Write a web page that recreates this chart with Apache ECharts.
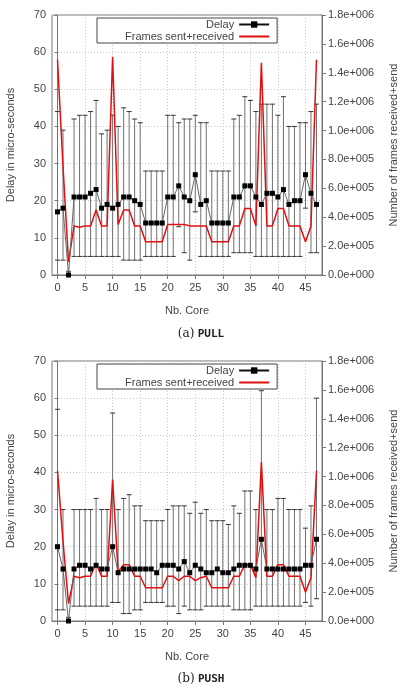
<!DOCTYPE html>
<html>
<head>
<meta charset="utf-8">
<script src="https://cdn.jsdelivr.net/npm/echarts@6/dist/echarts.min.js"></script>
<style>
  html, body { margin: 0; padding: 0; background: #fff; }
  #chart { width: 402px; height: 684px; }
</style>
</head>
<body>
<div id="chart"></div>
<script>
const cores = Array.from({ length: 48 }, (_, i) => i);
const xTicks = [0, 5, 10, 15, 20, 25, 30, 35, 40, 45];

const pullDelay = [17, 18, 0, 21, 21, 21, 22, 23, 18, 19, 18, 19, 21, 21, 20, 19, 14, 14, 14, 14, 21, 21, 24, 21, 20, 27, 19, 20, 14, 14, 14, 14, 21, 21, 24, 24, 21, 19, 22, 22, 21, 23, 19, 20, 20, 27, 22, 19];
const pullHigh = [44, 39, 1, 42, 43, 43, 44, 47, 38, 39, 43, 40, 45, 44, 42, 41, 28, 28, 28, 28, 43, 43, 41, 42, 42, 43, 41, 41, 28, 28, 28, 28, 42, 43, 48, 47, 44, 46, 46, 46, 43, 48, 40, 40, 41, 41, 44, 46];
const pullLow = [4, 4, 0, 5, 5, 5, 5, 5, 5, 5, 5, 5, 4, 4, 4, 4, 5, 5, 5, 5, 5, 5, 13, 6, 4, 17, 5, 5, 5, 5, 5, 5, 6, 6, 6, 6, 5, 5, 5, 5, 5, 5, 5, 5, 5, 18, 6, 6];
const pullFrames = [1490000, 750000, 90000, 340000, 330000, 340000, 340000, 450000, 340000, 340000, 1510000, 350000, 450000, 450000, 340000, 340000, 230000, 230000, 230000, 230000, 350000, 350000, 350000, 350000, 340000, 340000, 340000, 340000, 230000, 230000, 230000, 230000, 340000, 340000, 460000, 460000, 340000, 1470000, 340000, 340000, 460000, 460000, 340000, 340000, 340000, 230000, 340000, 1490000];

const pushDelay = [20, 14, 0, 14, 15, 15, 14, 15, 14, 14, 20, 13, 14, 14, 14, 14, 14, 14, 13, 15, 15, 15, 14, 16, 13, 15, 14, 13, 13, 14, 13, 13, 14, 15, 15, 15, 14, 22, 14, 14, 14, 14, 14, 14, 14, 15, 15, 22];
const pushHigh = [57, 30, 1, 30, 30, 30, 30, 33, 30, 30, 56, 30, 33, 34, 31, 31, 27, 27, 27, 27, 30, 31, 31, 31, 29, 32, 29, 30, 27, 27, 27, 26, 31, 29, 35, 35, 30, 62, 30, 30, 33, 33, 30, 30, 30, 25, 31, 60];
const pushLow = [3, 3, 0, 4, 4, 4, 4, 4, 4, 4, 5, 5, 2, 2, 3, 3, 5, 5, 5, 5, 4, 4, 2, 4, 3, 3, 3, 4, 4, 4, 4, 4, 3, 3, 3, 3, 4, 4, 4, 4, 4, 4, 4, 4, 4, 5, 4, 6];
const pushFrames = [1040000, 550000, 120000, 310000, 300000, 310000, 310000, 400000, 310000, 310000, 980000, 340000, 390000, 390000, 310000, 310000, 230000, 230000, 230000, 230000, 310000, 310000, 280000, 310000, 310000, 280000, 300000, 310000, 230000, 230000, 230000, 230000, 310000, 310000, 390000, 390000, 300000, 1100000, 310000, 310000, 390000, 390000, 310000, 310000, 310000, 200000, 300000, 1040000];

const FONT = "Liberation Sans";
const TXT = "#444";
const AX = "#777";

function sci(v) {
  if (v === 0) return "0.0e+000";
  const e = Math.floor(Math.log10(v) + 1e-9);
  const m = v / Math.pow(10, e);
  return m.toFixed(1) + "e+" + String(e).padStart(3, "0");
}

const chart = echarts.init(document.getElementById("chart"), null, { renderer: "canvas" });

const grids = [];
const xAxes = [];
const yAxes = [];
const series = [];
const legends = [];

function panel(i, top, delay, low, high, frames) {
  grids.push({
    left: 52, right: 80, top: top, height: 260,
    outerBoundsMode: "none", containLabel: false,
    show: true, borderColor: AX, borderWidth: 1,
  });

  xAxes.push({
    type: "value", gridIndex: i, min: -1, max: 48,
    name: "Nb. Core", nameLocation: "middle", nameGap: 30,
    nameTextStyle: { color: TXT, fontFamily: FONT, fontSize: 11 },
    axisLine: { lineStyle: { color: AX } },
    axisTick: { customValues: xTicks, length: 4, lineStyle: { color: AX } },
    axisLabel: { customValues: xTicks, color: TXT, fontFamily: FONT, fontSize: 11, margin: 7 },
    splitLine: { show: true, lineStyle: { color: "#c8c8c8", type: [1, 2] } },
  });

  yAxes.push({
    type: "value", gridIndex: i, min: 0, max: 70, interval: 10,
    name: "Delay in micro-seconds", nameLocation: "middle", nameGap: 36, nameRotate: 90,
    nameTextStyle: { color: TXT, fontFamily: FONT, fontSize: 11 },
    axisLine: { show: true, lineStyle: { color: AX } },
    axisTick: { show: true, length: 3, lineStyle: { color: AX } },
    axisLabel: { color: TXT, fontFamily: FONT, fontSize: 11, margin: 6 },
    splitLine: { show: true, lineStyle: { color: "#c8c8c8", type: [1, 2] } },
  });
  yAxes.push({
    type: "value", gridIndex: i, position: "right", min: 0, max: 1800000, interval: 200000,
    name: "Number of frames received+send", nameLocation: "middle", nameGap: 66, nameRotate: 90,
    nameTextStyle: { color: TXT, fontFamily: FONT, fontSize: 11 },
    axisLine: { show: true, lineStyle: { color: AX } },
    axisTick: { show: true, length: 4, lineStyle: { color: AX } },
    axisLabel: { color: TXT, fontFamily: FONT, fontSize: 11, margin: 6, formatter: sci },
    splitLine: { show: false },
  });

  series.push({
    name: "err" + i, type: "custom", xAxisIndex: i, yAxisIndex: i * 2, z: 2,
    data: cores.map((c, k) => [c, low[k], high[k]]),
    renderItem: function (params, api) {
      const x = api.value(0);
      const a = api.coord([x, api.value(1)]);
      const b = api.coord([x, api.value(2)]);
      const w = 2.5;
      const bar = { stroke: "#707070", lineWidth: 1 };
      const cap = { stroke: "#333", lineWidth: 1 };
      return {
        type: "group",
        children: [
          { type: "line", shape: { x1: a[0], y1: a[1], x2: b[0], y2: b[1] }, style: bar },
          { type: "line", shape: { x1: a[0] - w, y1: a[1], x2: a[0] + w, y2: a[1] }, style: cap },
          { type: "line", shape: { x1: b[0] - w, y1: b[1], x2: b[0] + w, y2: b[1] }, style: cap },
        ],
      };
    },
  });

  series.push({
    name: "Delay", type: "line", xAxisIndex: i, yAxisIndex: i * 2, z: 5,
    data: cores.map((c, k) => [c, delay[k]]),
    symbol: "rect", symbolSize: 5,
    itemStyle: { color: "#000" },
    lineStyle: { color: "#666", width: 1 },
    animation: false,
  });

  series.push({
    name: "Frames sent+received", type: "line", xAxisIndex: i, yAxisIndex: i * 2 + 1, z: 4,
    data: cores.map((c, k) => [c, frames[k]]),
    symbol: "none",
    itemStyle: { color: "#e01010" },
    lineStyle: { color: "#e01010", width: 1.5 },
    animation: false,
  });

  legends.push({
    left: 97, top: top + 3, orient: "vertical", align: "right",
    data: [
      { name: "Delay", lineStyle: { color: "#111" } },
      { name: "Frames sent+received", itemStyle: { opacity: 0 } },
    ],
    itemWidth: 30, itemHeight: 8, itemGap: 1,
    padding: [1, 7, 1, 28],
    borderColor: "#444", borderWidth: 1, borderRadius: 0,
    backgroundColor: "#fff",
    textStyle: { color: TXT, fontFamily: FONT, fontSize: 11, lineHeight: 11 },
    selectedMode: false,
  });
}

panel(0, 15, pullDelay, pullLow, pullHigh, pullFrames);
panel(1, 361, pushDelay, pushLow, pushHigh, pushFrames);

function caption(letter, word, y) {
  return {
    type: "text", left: "center", top: y,
    style: {
      text: "{a|(" + letter + ")} {b|" + word + "}",
      rich: {
        a: { fontFamily: "DejaVu Serif", fontSize: 12, fill: "#222" },
        b: { fontFamily: "DejaVu Sans Mono", fontSize: 11, fontWeight: "bold", fill: "#222" },
      },
    },
  };
}

chart.setOption({
  animation: false,
  backgroundColor: "#fff",
  grid: grids,
  xAxis: xAxes,
  yAxis: yAxes,
  series: series,
  legend: legends,
  graphic: [caption("a", "PULL", 328), caption("b", "PUSH", 673)],
});
</script>
</body>
</html>
